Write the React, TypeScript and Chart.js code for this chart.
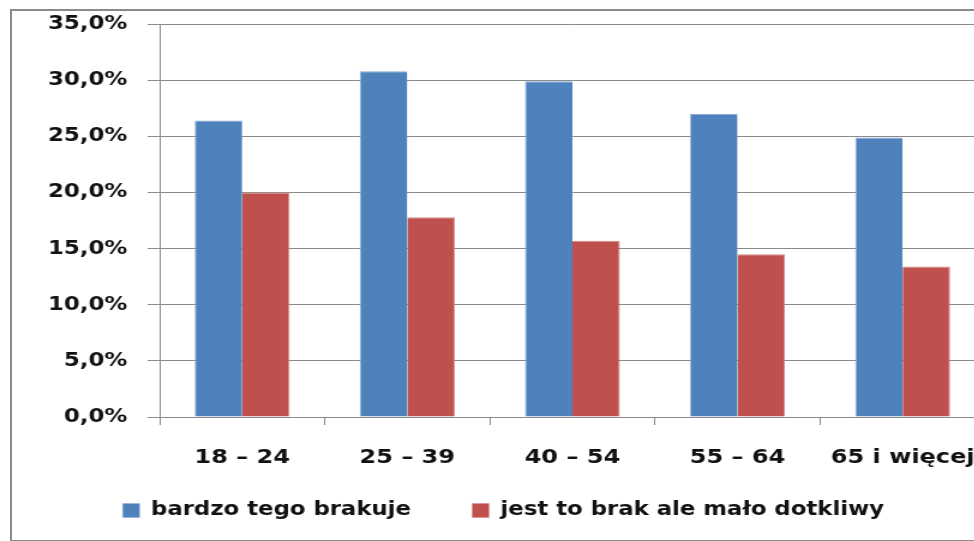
import React, { useEffect, useRef } from "react";
import { Chart, registerables } from "chart.js";

Chart.register(...registerables);

const categories = ["18 – 24", "25 – 39", "40 – 54", "55 – 64", "65 i więcej"];
const seriesNames = ["bardzo tego brakuje", "jest to brak ale mało dotkliwy"];
const bardzo = [26.4, 30.8, 29.9, 27.0, 24.9];
const malo = [20.0, 17.8, 15.7, 14.5, 13.4];
const yMin = 0;
const yMax = 35;
const yStep = 5;

const FONT = "'DejaVu Sans', sans-serif";
const STRETCH = 1.2; // the reference image is stretched horizontally
const CW = 842;
const CH = 541;

const legendShift = {
  id: "legendShift",
  afterLayout(chart: any) {
    const l = chart.legend;
    if (l) {
      l.top -= 23;
      l.bottom -= 23;
      l.left += 9;
      l.right += 9;
    }
  },
};

export default function App() {
  const ref = useRef<HTMLCanvasElement | null>(null);

  useEffect(() => {
    if (!ref.current) return;
    const chart = new Chart(ref.current, {
      type: "bar",
      data: {
        labels: categories,
        datasets: [
          {
            label: seriesNames[0],
            data: bardzo,
            backgroundColor: "#4F81BD",
            borderColor: "#8DAEDB",
            borderWidth: { top: 1, left: 1, right: 0, bottom: 0 },
          },
          {
            label: seriesNames[1],
            data: malo,
            backgroundColor: "#C0504D",
            borderColor: "#D98A88",
            borderWidth: { top: 1, right: 1, left: 0, bottom: 0 },
          },
        ],
      },
      plugins: [legendShift],
      options: {
        responsive: false,
        animation: false,
        devicePixelRatio: 1,
        layout: { padding: { left: 0, right: 21, top: 24, bottom: -12 } },
        datasets: { bar: { categoryPercentage: 0.575, barPercentage: 1 } },
        plugins: {
          tooltip: { enabled: false },
          legend: {
            position: "bottom",
            labels: {
              boxWidth: 14,
              boxHeight: 14,
              padding: 51,
              color: "#111",
              font: { family: FONT, size: 19, weight: "bold" },
            },
          },
        },
        scales: {
          x: {
            afterFit: (s: any) => {
              s.height = 56;
              s.paddingLeft = 0;
              s.paddingRight = 0;
            },
            grid: {
              offset: true,
              drawOnChartArea: false,
              drawTicks: true,
              tickLength: 8,
              color: "#8a8a8a",
            },
            border: { display: true, color: "#8a8a8a", width: 1 },
            ticks: {
              padding: 21,
              color: "#111",
              maxRotation: 0,
              autoSkip: false,
              font: { family: FONT, size: 20, weight: "bold" },
            },
          },
          y: {
            min: yMin,
            max: yMax,
            afterFit: (s: any) => {
              s.width = 133;
              s.paddingTop = 0;
              s.paddingBottom = 0;
            },
            grid: {
              color: "#8a8a8a",
              drawTicks: true,
              tickLength: 10,
            },
            border: { display: true, color: "#8a8a8a", width: 1 },
            ticks: {
              stepSize: yStep,
              padding: 17,
              color: "#111",
              font: { family: FONT, size: 19, weight: "bold" },
              callback: (v: any) => Number(v).toFixed(1).replace(".", ",") + "%",
            },
          },
        },
      },
    });
    return () => chart.destroy();
  }, []);

  return (
    <div
      style={{
        position: "fixed",
        left: 0,
        top: 0,
        width: 974,
        height: 541,
        overflow: "hidden",
        background: "#fff",
      }}
    >
      <div
        style={{
          position: "absolute",
          left: 10,
          top: 9,
          width: 1200,
          height: 529,
          border: "2px solid #8a8a8a",
        }}
      />
      <canvas
        ref={ref}
        width={CW}
        height={CH}
        style={{
          position: "absolute",
          left: 0,
          top: 0,
          width: CW,
          height: CH,
          transform: `scaleX(${STRETCH})`,
          transformOrigin: "0 0",
        }}
      />
    </div>
  );
}
